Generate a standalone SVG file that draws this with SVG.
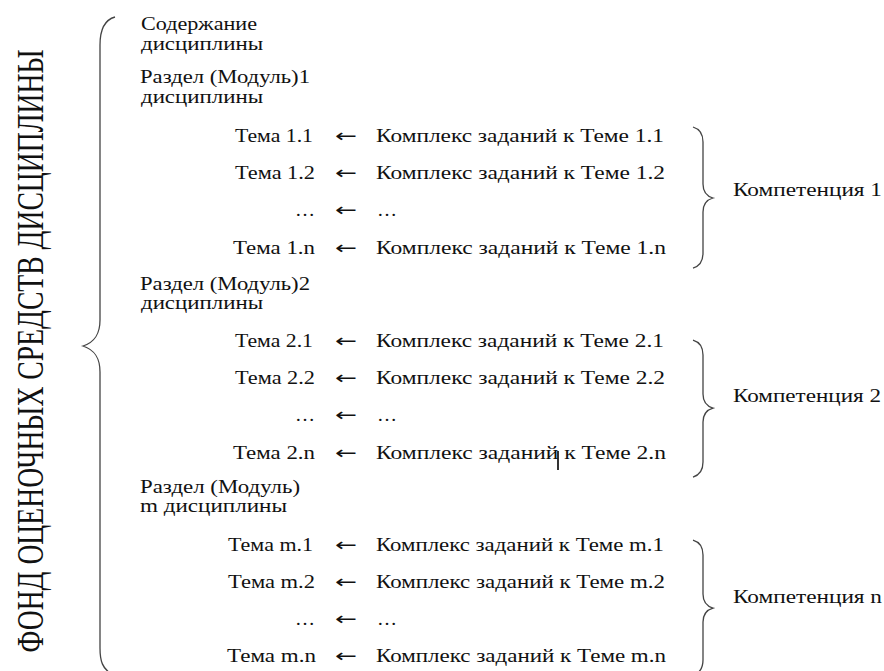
<svg xmlns="http://www.w3.org/2000/svg" width="884" height="671" viewBox="0 0 884 671" font-family="'Liberation Serif', 'Times New Roman', serif">
<style>
text{font-family:"Liberation Serif","Times New Roman",serif;font-size:19px;fill:#111}
text.ar{font-family:"DejaVu Sans",sans-serif;font-size:18px}
.br{fill:none;stroke:#444;stroke-width:1.3}
.title{font-size:27px;text-anchor:middle}
</style>
<rect width="884" height="671" fill="#fff"/>
<g id="title"><text class="title" transform="translate(43,351) rotate(-90) scale(1,1.4)" textLength="603" lengthAdjust="spacingAndGlyphs">ФОНД ОЦЕНОЧНЫХ СРЕДСТВ ДИСЦИПЛИНЫ</text></g>
<g id="connectors">
<path class="br" d="M115,17 C104,20 100,30 100,45 L100,320 C100,334 95,342 83,346 C95,350 100,358 100,372 L100,648 C100,662 103,668 110,673"/>
<path class="br" d="M693,127 C700,129 703,134 703,142 L703,184 C703,192 706,196 713,198 C706,200 703,204 703,212 L703,253 C703,261 700,266 693,268"/>
<path class="br" d="M693,340 C700,342 703,347 703,355 L703,394 C703,402 706,406 713,408 C706,410 703,414 703,422 L703,462 C703,470 700,475 693,477"/>
<path class="br" d="M693,540 C700,542 703,547 703,555 L703,594 C703,602 706,606 713,608 C706,610 703,614 703,622 L703,660 C703,668 700,673 693,675"/>
</g>
<g id="content"><text x="141" y="30" textLength="116" lengthAdjust="spacingAndGlyphs">Содержание</text><text x="141" y="50" textLength="122" lengthAdjust="spacingAndGlyphs">дисциплины</text></g>
<g id="section1"><text x="140" y="83" textLength="170" lengthAdjust="spacingAndGlyphs">Раздел (Модуль)1</text><text x="141" y="103" textLength="122" lengthAdjust="spacingAndGlyphs">дисциплины</text></g>
<g id="topics1">
<text x="235" y="142" textLength="78" lengthAdjust="spacingAndGlyphs">Тема 1.1</text><text class="ar" x="335" y="142" textLength="22" lengthAdjust="spacingAndGlyphs">←</text><text x="376" y="142" textLength="288" lengthAdjust="spacingAndGlyphs">Комплекс заданий к Теме 1.1</text>
<text x="235" y="179" textLength="80" lengthAdjust="spacingAndGlyphs">Тема 1.2</text><text class="ar" x="335" y="179" textLength="22" lengthAdjust="spacingAndGlyphs">←</text><text x="376" y="179" textLength="289" lengthAdjust="spacingAndGlyphs">Комплекс заданий к Теме 1.2</text>
<text x="295" y="216" textLength="20" lengthAdjust="spacingAndGlyphs">…</text><text class="ar" x="335" y="216" textLength="22" lengthAdjust="spacingAndGlyphs">←</text><text x="377" y="216" textLength="20" lengthAdjust="spacingAndGlyphs">…</text>
<text x="233" y="254" textLength="82" lengthAdjust="spacingAndGlyphs">Тема 1.n</text><text class="ar" x="335" y="254" textLength="22" lengthAdjust="spacingAndGlyphs">←</text><text x="376" y="254" textLength="290" lengthAdjust="spacingAndGlyphs">Комплекс заданий к Теме 1.n</text>
</g>
<g id="comp1"><text x="733" y="196" textLength="149" lengthAdjust="spacingAndGlyphs">Компетенция 1</text></g>
<g id="section2"><text x="140" y="290" textLength="170" lengthAdjust="spacingAndGlyphs">Раздел (Модуль)2</text><text x="141" y="309" textLength="122" lengthAdjust="spacingAndGlyphs">дисциплины</text></g>
<g id="topics2">
<text x="235" y="347" textLength="78" lengthAdjust="spacingAndGlyphs">Тема 2.1</text><text class="ar" x="335" y="347" textLength="22" lengthAdjust="spacingAndGlyphs">←</text><text x="376" y="347" textLength="288" lengthAdjust="spacingAndGlyphs">Комплекс заданий к Теме 2.1</text>
<text x="235" y="384" textLength="80" lengthAdjust="spacingAndGlyphs">Тема 2.2</text><text class="ar" x="335" y="384" textLength="22" lengthAdjust="spacingAndGlyphs">←</text><text x="376" y="384" textLength="289" lengthAdjust="spacingAndGlyphs">Комплекс заданий к Теме 2.2</text>
<text x="295" y="421" textLength="20" lengthAdjust="spacingAndGlyphs">…</text><text class="ar" x="335" y="421" textLength="22" lengthAdjust="spacingAndGlyphs">←</text><text x="377" y="421" textLength="20" lengthAdjust="spacingAndGlyphs">…</text>
<text x="233" y="459" textLength="82" lengthAdjust="spacingAndGlyphs">Тема 2.n</text><text class="ar" x="335" y="459" textLength="22" lengthAdjust="spacingAndGlyphs">←</text><text x="376" y="459" textLength="290" lengthAdjust="spacingAndGlyphs">Комплекс заданий к Теме 2.n</text>
<line x1="558" y1="451" x2="558" y2="470" stroke="#000" stroke-width="1.6"/>
</g>
<g id="comp2"><text x="733" y="402" textLength="148" lengthAdjust="spacingAndGlyphs">Компетенция 2</text></g>
<g id="sectionm"><text x="140" y="493" textLength="160" lengthAdjust="spacingAndGlyphs">Раздел (Модуль)</text><text x="140" y="512" textLength="147" lengthAdjust="spacingAndGlyphs">m дисциплины</text></g>
<g id="topicsm">
<text x="228" y="551" textLength="85" lengthAdjust="spacingAndGlyphs">Тема m.1</text><text class="ar" x="335" y="551" textLength="22" lengthAdjust="spacingAndGlyphs">←</text><text x="376" y="551" textLength="288" lengthAdjust="spacingAndGlyphs">Комплекс заданий к Теме m.1</text>
<text x="228" y="588" textLength="87" lengthAdjust="spacingAndGlyphs">Тема m.2</text><text class="ar" x="335" y="588" textLength="22" lengthAdjust="spacingAndGlyphs">←</text><text x="376" y="588" textLength="289" lengthAdjust="spacingAndGlyphs">Комплекс заданий к Теме m.2</text>
<text x="295" y="625" textLength="20" lengthAdjust="spacingAndGlyphs">…</text><text class="ar" x="335" y="625" textLength="22" lengthAdjust="spacingAndGlyphs">←</text><text x="377" y="625" textLength="20" lengthAdjust="spacingAndGlyphs">…</text>
<text x="227" y="662" textLength="89" lengthAdjust="spacingAndGlyphs">Тема m.n</text><text class="ar" x="335" y="662" textLength="22" lengthAdjust="spacingAndGlyphs">←</text><text x="376" y="662" textLength="290" lengthAdjust="spacingAndGlyphs">Комплекс заданий к Теме m.n</text>
</g>
<g id="compn"><text x="733" y="603" textLength="149" lengthAdjust="spacingAndGlyphs">Компетенция n</text></g>
</svg>
